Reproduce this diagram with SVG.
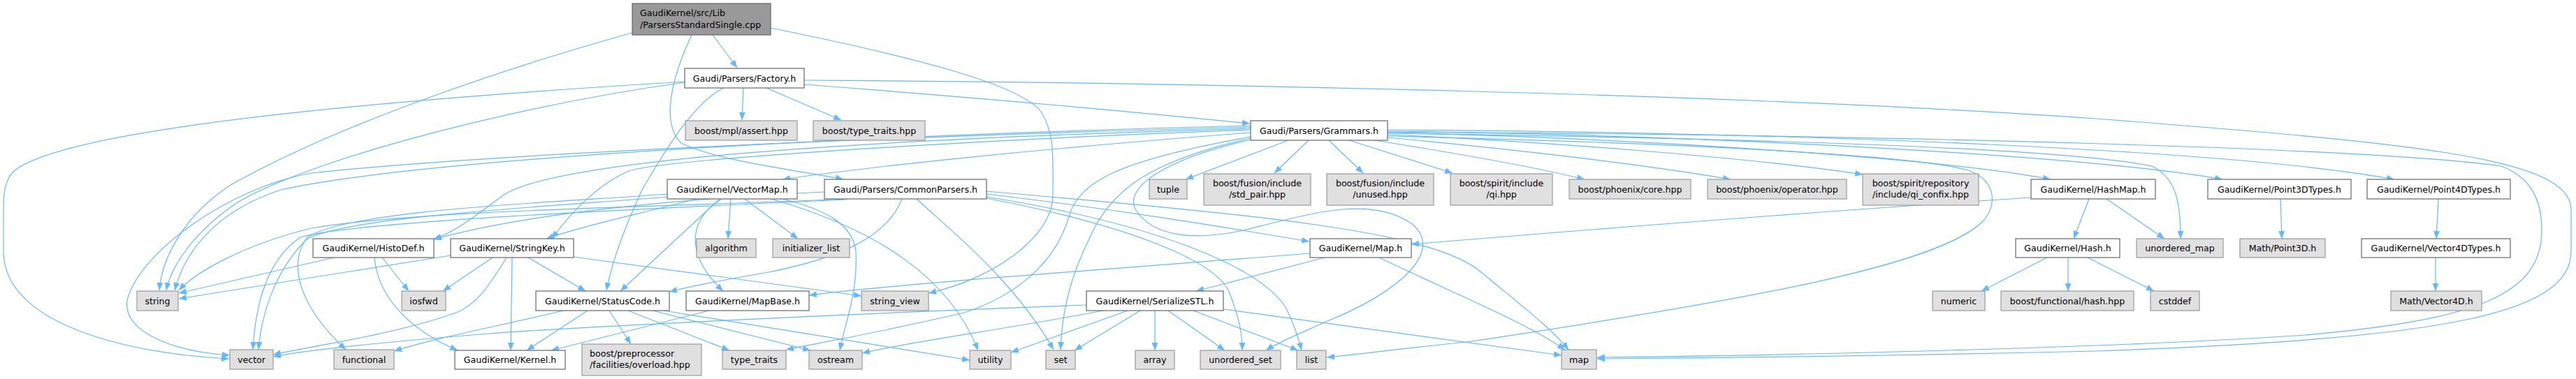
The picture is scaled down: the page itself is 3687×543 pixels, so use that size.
<svg xmlns="http://www.w3.org/2000/svg" width="3687" height="543" viewBox="0 0 3687 543">
<style>
text{font-family:"DejaVu Sans","Liberation Sans",sans-serif;font-size:12.6px;fill:#000}
.c{text-anchor:middle}
.w rect{fill:#fff;stroke:#666;stroke-width:1.2}
.g rect{fill:#e0e0e0;stroke:#999;stroke-width:1.2}
.m rect{fill:#999;stroke:#666;stroke-width:1.2}
#edges path{fill:none;stroke:#63b8ff;stroke-width:1.2;marker-end:url(#ah)}
</style>
<defs>
<marker id="ah" markerUnits="userSpaceOnUse" markerWidth="12" markerHeight="9" refX="11" refY="4.5" orient="auto"><path d="M0,0 L11,4.5 L0,9 z" fill="#63b8ff"/></marker>
</defs>
<rect width="3687" height="543" fill="#fff"/>
<g id="edges">
<path d="M1020,50 L1055,97"/>
<path d="M990,50 C962,110 945,175 975,205 C1030,232 1150,245 1207,257"/>
<path d="M905,47 C750,90 500,170 330,265 C262,310 232,370 228,416"/>
<path d="M1103,40 C1300,80 1460,120 1490,160 C1510,190 1507,230 1507,280 C1507,340 1420,400 1329,420"/>
<path d="M1064,126 L1062,172"/>
<path d="M1097,126 L1204,172"/>
<path d="M1151,121 C1400,140 1650,163 1789,177"/>
<path d="M1151,115 C1700,118 2500,135 3000,170 C3450,205 3680,225 3680,300 L3680,360 C3680,450 3500,485 3000,503 C2700,510 2420,513 2286,514"/>
<path d="M980,117 C600,140 100,180 20,245 C6,258 5,280 5,300 L5,360 C5,470 200,508 328,514"/>
<path d="M980,118 C750,150 450,225 340,290 C280,330 245,380 238,416"/>
<path d="M1035,126 C990,150 950,220 920,270 C892,330 875,380 868,416"/>
<path d="M1844,201 L1697,257"/>
<path d="M1873,201 L1824,248"/>
<path d="M1902,201 L1951,248"/>
<path d="M1931,201 L2079,248"/>
<path d="M1967,201 C2100,222 2200,240 2268,257"/>
<path d="M1986,197 C2150,212 2350,235 2477,257"/>
<path d="M1986,193 C2200,202 2500,225 2666,250"/>
<path d="M1986,190 C2400,200 2800,230 2935,257"/>
<path d="M1986,188 C2500,195 3000,225 3181,257"/>
<path d="M1986,186 C2600,190 3200,215 3427,257"/>
<path d="M1986,191 C2500,198 2950,212 3080,238 C3115,255 3121,290 3121,342"/>
<path d="M1986,189 C2700,193 3400,212 3580,238 C3625,255 3638,290 3638,330 C3638,420 3550,458 3300,480 C3000,500 2500,510 2286,512"/>
<path d="M1986,195 C2400,205 2750,222 2820,245 C2857,260 2858,292 2840,315 C2780,380 2500,430 2100,490 C2000,500 1950,507 1899,512"/>
<path d="M1790,190 C1500,212 1250,238 1120,257"/>
<path d="M1790,184 C1300,198 800,225 720,280 C680,310 650,333 620,343"/>
<path d="M1790,186 C1400,200 950,228 900,245 C860,262 820,300 790,342"/>
<path d="M1790,180 C1200,195 600,228 402,272 C300,305 262,370 250,416"/>
<path d="M1790,182 C1300,195 700,220 446,248 C330,268 200,360 182,430 C175,480 260,505 329,509"/>
<path d="M1790,198 C1650,230 1590,270 1560,340 C1530,400 1520,450 1518,501"/>
<path d="M1790,200 C1660,230 1610,270 1625,300 C1650,340 1710,345 1780,330 C1880,305 1960,280 2020,320 C2070,360 2000,420 1900,460 C1860,478 1830,490 1812,502"/>
<path d="M1790,196 C1600,230 1545,260 1530,310 C1510,380 1450,425 1380,448 C1250,478 1180,490 1125,501"/>
<path d="M1180,275 C900,288 720,315 621,343"/>
<path d="M1412,278 C1600,300 1750,325 1874,346"/>
<path d="M1291,285 C1270,340 1200,370 1100,390 C1030,402 990,410 958,418"/>
<path d="M1412,282 C1650,320 1800,380 1840,440 C1855,470 1860,490 1863,502"/>
<path d="M1412,274 C1800,308 2050,330 2120,390 C2180,440 2220,470 2245,501"/>
<path d="M1312,285 C1360,330 1450,400 1508,501"/>
<path d="M1213,285 C1000,295 600,300 446,327 C350,350 280,390 256,416"/>
<path d="M1412,284 C1600,320 1740,370 1760,420 C1775,460 1778,480 1778,502"/>
<path d="M1209,286 C900,300 500,318 430,340 C385,370 366,430 362,501"/>
<path d="M1046,285 L1042,342"/>
<path d="M955,278 C800,290 500,300 440,340 C410,380 430,440 495,501"/>
<path d="M1066,285 L1142,342"/>
<path d="M1120,285 C1180,300 1220,320 1225,360 C1228,420 1210,460 1202,502"/>
<path d="M1104,285 C1260,330 1360,400 1400,502"/>
<path d="M957,282 C800,295 500,310 440,342 C400,380 375,440 370,501"/>
<path d="M1033,285 C990,310 975,360 1035,417"/>
<path d="M1030,285 L888,417"/>
<path d="M997,285 C900,310 830,325 782,342"/>
<path d="M536,369 C540,420 580,470 655,502"/>
<path d="M547,369 L585,417"/>
<path d="M478,369 L256,420"/>
<path d="M733,369 L731,502"/>
<path d="M756,369 L838,417"/>
<path d="M705,369 L634,417"/>
<path d="M645,366 L256,428"/>
<path d="M821,368 L1233,424"/>
<path d="M725,369 C700,410 680,440 647,450 C560,480 450,495 391,508"/>
<path d="M872,445 L903,493"/>
<path d="M841,445 L754,502"/>
<path d="M807,445 C700,470 620,485 564,503"/>
<path d="M934,445 L1160,502"/>
<path d="M899,445 L1044,502"/>
<path d="M950,445 L1388,516"/>
<path d="M1015,445 L789,502"/>
<path d="M1875,363 C1600,385 1300,405 1158,423"/>
<path d="M1896,369 L1712,417"/>
<path d="M1974,369 C2080,420 2180,460 2240,501"/>
<path d="M1555,437 C1200,450 800,470 700,478 C550,490 450,500 391,511"/>
<path d="M1579,445 C1450,470 1300,490 1234,506"/>
<path d="M1614,445 L1447,505"/>
<path d="M1632,445 L1538,502"/>
<path d="M1653,445 L1653,502"/>
<path d="M1672,445 L1753,502"/>
<path d="M1708,445 L1858,502"/>
<path d="M1751,443 C1950,470 2100,492 2235,509"/>
<path d="M2907,283 C2500,310 2200,335 2020,350"/>
<path d="M2990,285 L2968,342"/>
<path d="M3015,285 L3098,342"/>
<path d="M2930,369 L2836,417"/>
<path d="M2960,369 L2960,417"/>
<path d="M2988,369 L3083,417"/>
<path d="M3264,285 L3266,342"/>
<path d="M3490,285 L3487,342"/>
<path d="M3486,369 L3486,417"/>
</g>
<g id="n_main" class="m"><rect x="905" y="5" width="198" height="45"/><text x="916" y="23">GaudiKernel/src/Lib</text><text x="916" y="40">/ParsersStandardSingle.cpp</text></g>
<g id="n_factory" class="w"><rect x="980" y="98" width="171" height="28"/><text class="c" x="1065.5" y="116.5">Gaudi/Parsers/Factory.h</text></g>
<g id="n_assert" class="g"><rect x="981" y="173" width="160" height="28"/><text class="c" x="1061" y="191.5">boost/mpl/assert.hpp</text></g>
<g id="n_btt" class="g"><rect x="1164" y="173" width="160" height="28"/><text class="c" x="1244" y="191.5">boost/type_traits.hpp</text></g>
<g id="n_grammars" class="w"><rect x="1790" y="173" width="196" height="28"/><text class="c" x="1888" y="191.5">Gaudi/Parsers/Grammars.h</text></g>
<g id="n_vectormap" class="w"><rect x="955" y="257" width="186" height="28"/><text class="c" x="1048" y="275.5">GaudiKernel/VectorMap.h</text></g>
<g id="n_commonparsers" class="w"><rect x="1180" y="257" width="232" height="28"/><text class="c" x="1296" y="275.5">Gaudi/Parsers/CommonParsers.h</text></g>
<g id="n_tuple" class="g"><rect x="1645" y="257" width="54" height="28"/><text class="c" x="1672" y="275.5">tuple</text></g>
<g id="n_stdpair" class="g"><rect x="1723" y="249" width="153" height="45"/><text class="c" x="1799.5" y="267">boost/fusion/include</text><text class="c" x="1799.5" y="283">/std_pair.hpp</text></g>
<g id="n_unused" class="g"><rect x="1899" y="249" width="153" height="45"/><text class="c" x="1975.5" y="267">boost/fusion/include</text><text class="c" x="1975.5" y="283">/unused.hpp</text></g>
<g id="n_qi" class="g"><rect x="2076" y="249" width="146" height="45"/><text class="c" x="2149" y="267">boost/spirit/include</text><text class="c" x="2149" y="283">/qi.hpp</text></g>
<g id="n_core" class="g"><rect x="2246" y="257" width="174" height="28"/><text class="c" x="2333" y="275.5">boost/phoenix/core.hpp</text></g>
<g id="n_operator" class="g"><rect x="2444" y="257" width="199" height="28"/><text class="c" x="2543.5" y="275.5">boost/phoenix/operator.hpp</text></g>
<g id="n_confix" class="g"><rect x="2666" y="249" width="166" height="45"/><text class="c" x="2749" y="267">boost/spirit/repository</text><text class="c" x="2749" y="283">/include/qi_confix.hpp</text></g>
<g id="n_hashmap" class="w"><rect x="2907" y="257" width="178" height="28"/><text class="c" x="2996" y="275.5">GaudiKernel/HashMap.h</text></g>
<g id="n_p3" class="w"><rect x="3160" y="257" width="205" height="28"/><text class="c" x="3262.5" y="275.5">GaudiKernel/Point3DTypes.h</text></g>
<g id="n_p4" class="w"><rect x="3388" y="257" width="205" height="28"/><text class="c" x="3490.5" y="275.5">GaudiKernel/Point4DTypes.h</text></g>
<g id="n_histodef" class="w"><rect x="448" y="342" width="173" height="27"/><text class="c" x="534.5" y="360">GaudiKernel/HistoDef.h</text></g>
<g id="n_stringkey" class="w"><rect x="645" y="342" width="176" height="27"/><text class="c" x="733" y="360">GaudiKernel/StringKey.h</text></g>
<g id="n_algorithm" class="g"><rect x="997" y="342" width="85" height="27"/><text class="c" x="1039.5" y="360">algorithm</text></g>
<g id="n_initlist" class="g"><rect x="1106" y="342" width="110" height="27"/><text class="c" x="1161" y="360">initializer_list</text></g>
<g id="n_map_h" class="w"><rect x="1875" y="342" width="145" height="27"/><text class="c" x="1947.5" y="360">GaudiKernel/Map.h</text></g>
<g id="n_hash" class="w"><rect x="2885" y="342" width="149" height="27"/><text class="c" x="2959.5" y="360">GaudiKernel/Hash.h</text></g>
<g id="n_umap" class="g"><rect x="3058" y="342" width="124" height="27"/><text class="c" x="3120" y="360">unordered_map</text></g>
<g id="n_point3d" class="g"><rect x="3206" y="342" width="122" height="27"/><text class="c" x="3267" y="360">Math/Point3D.h</text></g>
<g id="n_v4dtypes" class="w"><rect x="3380" y="342" width="213" height="27"/><text class="c" x="3486.5" y="360">GaudiKernel/Vector4DTypes.h</text></g>
<g id="n_string" class="g"><rect x="196" y="417" width="59" height="28"/><text class="c" x="225.5" y="435.5">string</text></g>
<g id="n_iosfwd" class="g"><rect x="575" y="417" width="63" height="28"/><text class="c" x="606.5" y="435.5">iosfwd</text></g>
<g id="n_statuscode" class="w"><rect x="767" y="417" width="191" height="28"/><text class="c" x="862.5" y="435.5">GaudiKernel/StatusCode.h</text></g>
<g id="n_mapbase" class="w"><rect x="982" y="417" width="176" height="28"/><text class="c" x="1070" y="435.5">GaudiKernel/MapBase.h</text></g>
<g id="n_stringview" class="g"><rect x="1233" y="417" width="96" height="28"/><text class="c" x="1281" y="435.5">string_view</text></g>
<g id="n_serialize" class="w"><rect x="1555" y="417" width="196" height="28"/><text class="c" x="1653" y="435.5">GaudiKernel/SerializeSTL.h</text></g>
<g id="n_numeric" class="g"><rect x="2766" y="417" width="75" height="28"/><text class="c" x="2803.5" y="435.5">numeric</text></g>
<g id="n_hashhpp" class="g"><rect x="2864" y="417" width="190" height="28"/><text class="c" x="2959" y="435.5">boost/functional/hash.hpp</text></g>
<g id="n_cstddef" class="g"><rect x="3078" y="417" width="70" height="28"/><text class="c" x="3113" y="435.5">cstddef</text></g>
<g id="n_vector4d" class="g"><rect x="3422" y="417" width="130" height="28"/><text class="c" x="3487" y="435.5">Math/Vector4D.h</text></g>
<g id="n_vector" class="g"><rect x="329" y="501" width="62" height="28"/><text class="c" x="360" y="519.5">vector</text></g>
<g id="n_functional" class="g"><rect x="478" y="501" width="86" height="28"/><text class="c" x="521" y="519.5">functional</text></g>
<g id="n_kernel" class="w"><rect x="651" y="502" width="158" height="27"/><text class="c" x="730" y="520">GaudiKernel/Kernel.h</text></g>
<g id="n_overload" class="g"><rect x="833" y="493" width="171" height="45"/><text x="844" y="511">boost/preprocessor</text><text x="844" y="527">/facilities/overload.hpp</text></g>
<g id="n_typetraits" class="g"><rect x="1034" y="502" width="91" height="27"/><text class="c" x="1079.5" y="520">type_traits</text></g>
<g id="n_ostream" class="g"><rect x="1158" y="502" width="76" height="27"/><text class="c" x="1196" y="520">ostream</text></g>
<g id="n_utility" class="g"><rect x="1388" y="502" width="59" height="27"/><text class="c" x="1417.5" y="520">utility</text></g>
<g id="n_set" class="g"><rect x="1497" y="502" width="42" height="27"/><text class="c" x="1518" y="520">set</text></g>
<g id="n_array" class="g"><rect x="1625" y="502" width="56" height="27"/><text class="c" x="1653" y="520">array</text></g>
<g id="n_uset" class="g"><rect x="1718" y="502" width="115" height="27"/><text class="c" x="1775.5" y="520">unordered_set</text></g>
<g id="n_list" class="g"><rect x="1856" y="502" width="42" height="27"/><text class="c" x="1877" y="520">list</text></g>
<g id="n_map" class="g"><rect x="2235" y="501" width="50" height="28"/><text class="c" x="2260" y="519.5">map</text></g>
</svg>
